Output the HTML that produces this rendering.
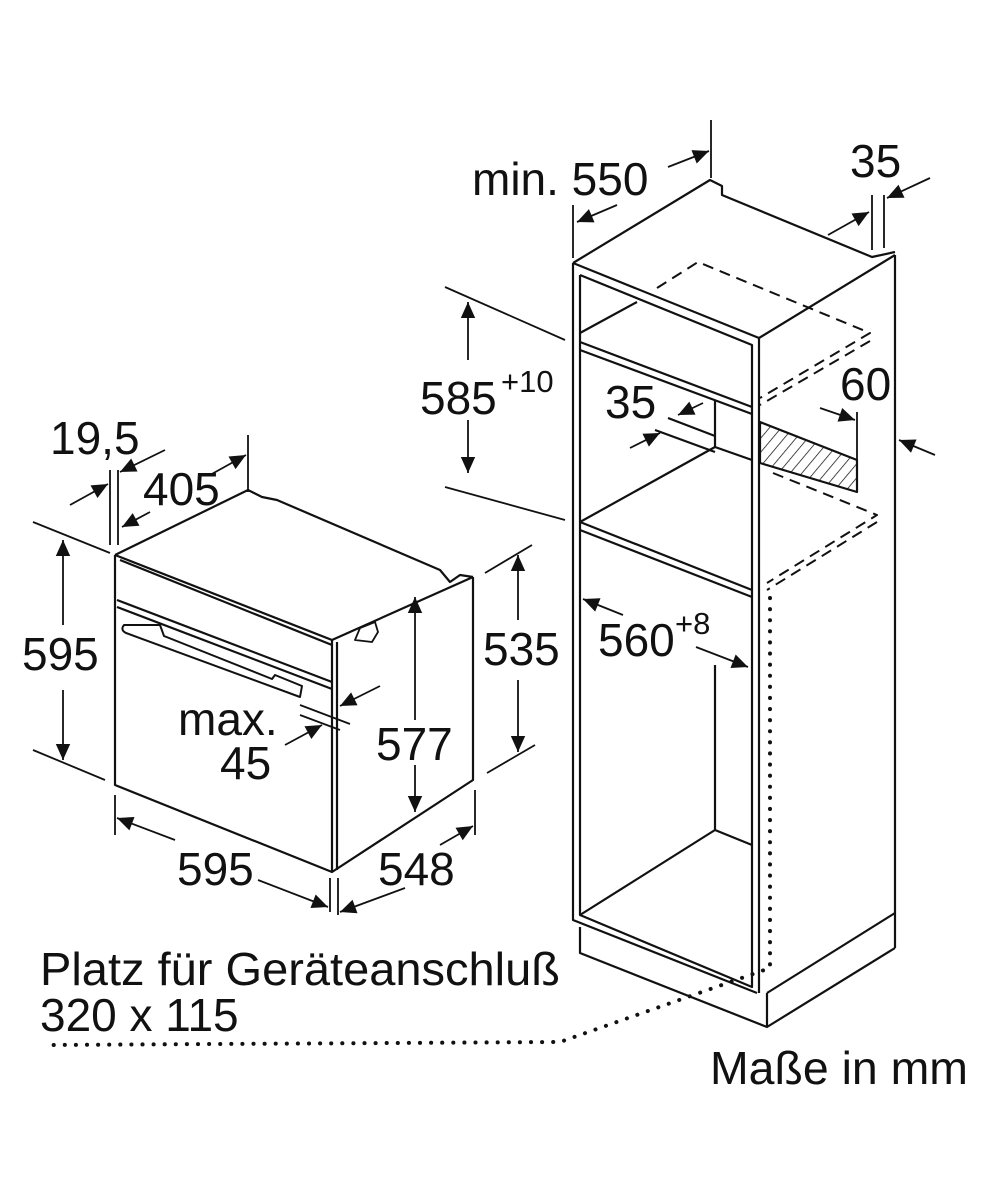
<!DOCTYPE html>
<html><head><meta charset="utf-8"><style>
html,body{margin:0;padding:0;background:#fff;}
svg{display:block;}
text{font-family:"Liberation Sans",sans-serif;fill:#111;}
</style></head><body>
<svg width="1000" height="1200" viewBox="0 0 1000 1200" xmlns="http://www.w3.org/2000/svg">
<defs>
<marker id="b" viewBox="0 0 10 10" refX="10" refY="5" markerWidth="20" markerHeight="16" markerUnits="userSpaceOnUse" orient="auto-start-reverse"><path d="M0,0.5 L10,5 L0,9.5 z" fill="#111"/></marker>
<pattern id="h" width="9" height="9" patternUnits="userSpaceOnUse" patternTransform="rotate(40)"><line x1="0" y1="0" x2="0" y2="9" stroke="#111" stroke-width="1.5"/></pattern>
</defs>
<g fill="none" stroke="#111" stroke-width="2.2" stroke-linejoin="round">
<!-- CABINET -->
<path d="M573,263 L710,180 L722,186 L722,195 L872,257 L895,252"/>
<path d="M573,263 L759,338 L895,255"/>
<path d="M573,263 L573,920 L757,993"/>
<path d="M580,275 L752,345 L752,987 L580,915 L580,275"/>
<line x1="759" y1="338" x2="759" y2="993"/>
<line x1="895" y1="255" x2="895" y2="948"/>
<path d="M580,342 L752,407 M580,350 L752,414"/>
<path d="M580,333 L637,302"/>
<path d="M580,522 L752,590 M580,530 L752,597"/>
<path d="M580,522 L715,447 L715,400 M715,447 L752,460"/>
<path d="M668,418 L715,436 M655,430 L715,452"/>
<path d="M580,915 L715,830 L752,845 M715,830 L715,665"/>
<path d="M580,927 L580,953 L767,1027 L895,948 M767,993 L767,1027 M767,993 L895,913"/>
<g stroke-dasharray="11,7" stroke-width="2">
<path d="M657,288 L698,262 L870,333 L760,398"/>
<path d="M870,341 L760,405"/>
<path d="M773,473 L877,515 L767,583"/>
<path d="M877,522 L767,590"/>
</g>
<path d="M760,422 L857,460 L857,492 L760,463 Z" fill="url(#h)"/>
<path d="M770,598 L770,968 L560,1042 L45,1045" stroke-dasharray="0.1,11" stroke-linecap="round" stroke-width="4"/>
<!-- OVEN -->
<path d="M115,555 L248,490 L262,497 L277,500 L440,570 L450,582 L460,575 L473,577"/>
<path d="M115,555 L332,640 L473,577"/>
<path d="M120,560 L332,645"/>
<path d="M115,555 L115,785 L332,872 L473,780 L473,577"/>
<path d="M332,640 L332,872 M337,642 L337,870"/>
<path d="M117,600 L332,682 M117,607 L332,689"/>
<path d="M124,625 L160,625 L164,636 L272,679 L275,675 L302,686 L300,697 L126,633 Q120,630 124,625 Z" stroke-width="2"/>
<path d="M355,640 L360,628 L375,622 L378,632 L372,642 Z" stroke-width="1.8"/>
</g>
<!-- DIMENSIONS -->
<g fill="none" stroke="#111" stroke-width="1.8">
<path d="M33,522 L110,553 M33,750 L105,780"/>
<line x1="63" y1="625" x2="63" y2="540" marker-end="url(#b)"/>
<line x1="63" y1="690" x2="63" y2="760" marker-end="url(#b)"/>
<path d="M485,573 L532,545 M487,773 L535,745"/>
<line x1="518" y1="620" x2="518" y2="555" marker-end="url(#b)"/>
<line x1="518" y1="680" x2="518" y2="752" marker-end="url(#b)"/>
<line x1="415" y1="720" x2="415" y2="597" marker-end="url(#b)"/>
<line x1="415" y1="765" x2="415" y2="812" marker-end="url(#b)"/>
<path d="M115,795 L115,835 M330,878 L330,912"/>
<line x1="175" y1="840" x2="117" y2="818" marker-end="url(#b)"/>
<line x1="258" y1="880" x2="328" y2="907" marker-end="url(#b)"/>
<path d="M475,790 L475,835 M338,878 L338,915"/>
<line x1="405" y1="888" x2="340" y2="912" marker-end="url(#b)"/>
<line x1="440" y1="845" x2="473" y2="826" marker-end="url(#b)"/>
<line x1="248" y1="435" x2="248" y2="492"/>
<line x1="210" y1="475" x2="246" y2="455" marker-end="url(#b)"/>
<line x1="150" y1="512" x2="122" y2="527" marker-end="url(#b)"/>
<path d="M110,470 L110,545 M118,470 L118,545"/>
<line x1="70" y1="505" x2="108" y2="484" marker-end="url(#b)"/>
<line x1="165" y1="450" x2="120" y2="472" marker-end="url(#b)"/>
<path d="M300,705 L350,724 M300,715 L340,730"/>
<line x1="380" y1="686" x2="340" y2="706" marker-end="url(#b)"/>
<line x1="285" y1="745" x2="322" y2="725" marker-end="url(#b)"/>
<path d="M445,287 L565,340 M445,487 L565,520"/>
<line x1="468" y1="360" x2="468" y2="302" marker-end="url(#b)"/>
<line x1="468" y1="420" x2="468" y2="473" marker-end="url(#b)"/>
<path d="M573,205 L573,258 M711,120 L711,178"/>
<line x1="617" y1="205" x2="577" y2="222" marker-end="url(#b)"/>
<line x1="668" y1="167" x2="709" y2="151" marker-end="url(#b)"/>
<path d="M872,195 L872,250 M884,195 L884,248"/>
<line x1="828" y1="235" x2="869" y2="212" marker-end="url(#b)"/>
<line x1="930" y1="178" x2="887" y2="198" marker-end="url(#b)"/>
<line x1="703" y1="403" x2="678" y2="415" marker-end="url(#b)"/>
<line x1="630" y1="448" x2="660" y2="433" marker-end="url(#b)"/>
<line x1="857" y1="412" x2="857" y2="460"/>
<line x1="820" y1="408" x2="855" y2="420" marker-end="url(#b)"/>
<line x1="935" y1="455" x2="899" y2="440" marker-end="url(#b)"/>
<line x1="623" y1="615" x2="583" y2="599" marker-end="url(#b)"/>
<line x1="696" y1="647" x2="748" y2="667" marker-end="url(#b)"/>
</g>
<!-- TEXT -->
<g font-size="46">
<text x="472" y="195">min. 550</text>
<text x="850" y="177">35</text>
<text x="420" y="414">585</text><text x="501" y="392" font-size="31">+10</text>
<text x="605" y="418">35</text>
<text x="840" y="400">60</text>
<text x="598" y="656">560</text><text x="675" y="634" font-size="31">+8</text>
<text x="50" y="454">19,5</text>
<text x="143" y="505">405</text>
<text x="22" y="670">595</text>
<text x="483" y="665">535</text>
<text x="178" y="735">max.</text>
<text x="220" y="779">45</text>
<text x="376" y="760">577</text>
<text x="177" y="885">595</text>
<text x="378" y="885">548</text>
</g>
<g font-size="46">
<text x="40" y="985" textLength="520" lengthAdjust="spacingAndGlyphs">Platz für Geräteanschluß</text>
<text x="40" y="1031">320 x 115</text>
<text x="710" y="1084" textLength="258" lengthAdjust="spacingAndGlyphs">Maße in mm</text>
</g>
</svg>
</body></html>
